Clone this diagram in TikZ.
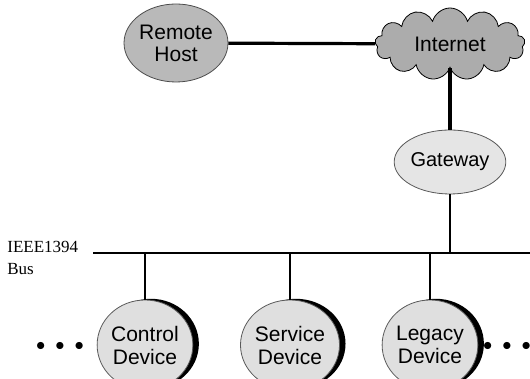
\documentclass[tikz,border=0pt]{standalone}
\usepackage{fontspec}
\setmainfont{Liberation Serif}
\setsansfont{Liberation Sans}
\usetikzlibrary{positioning,shapes.geometric,shapes.symbols,shadows}

\begin{document}
\begin{tikzpicture}[x=0.5pt,y=0.5pt]
    \tikzstyle{dev} = [ellipse, draw=gray!70!black, fill=gray!25, align=center, inner sep=0pt,
        minimum width=42pt, minimum height=45pt, font=\sffamily\fontsize{10.5}{11.5}\selectfont,
        drop shadow={shadow xshift=3pt, shadow yshift=0.6pt, fill=black, opacity=1}]
    \tikzstyle{wire} = [line width=1pt]
    \tikzstyle{fat} = [line width=1.6pt]
    \tikzstyle{dots} = [inner sep=0pt, font=\fontsize{9}{9}\selectfont]
    \useasboundingbox (0,0) rectangle (530,379);
        %%% remote side %%%
        \node[ellipse, draw=gray!60!black, fill=gray!55, align=center, inner sep=0pt,
            minimum width=46pt, minimum height=39pt,
            font=\sffamily\fontsize{10.5}{11}\selectfont] (remote) at (176,336) {Remote\\Host};
        \node[cloud, cloud puffs=13, aspect=2.3, draw=black, fill=gray!65, inner sep=0pt,
            minimum width=75pt, minimum height=36pt,
            font=\sffamily\fontsize{10.5}{11}\selectfont] (inet) at (450,335) {Internet};
        \draw[fat] (remote) -- (inet);
        %%% gateway
        \node[ellipse, draw=gray!70!black, fill=gray!20, inner sep=0pt,
            minimum width=46pt, minimum height=32pt,
            font=\sffamily\fontsize{10}{11}\selectfont] (gw) at (450,217) {Gateway};
        \draw[fat] (inet) -- (gw);
        %%% bus
        \coordinate (busl) at (93,126);
        \coordinate (busr) at (530,126);
        \draw[wire] (busl) -- (busr);
        \node[anchor=west, align=left, inner sep=0pt, font=\fontsize{8.5}{11}\selectfont]
            (buslabel) at (7,121) {IEEE1394\\Bus};
        \draw[wire] (gw) -- (gw |- busl);
        %%% devices %%%
        \node[dev] (ctrl) at (145,34) {Control\\Device};
        \node[dev] (serv) at (290,34) {Service\\Device};
        \node[dev] (legacy) at (430,34) {Legacy\\Device};
        \foreach \d in {ctrl,serv,legacy}
            \draw[wire] (\d.north) -- (\d.north |- busl);
        %%% dots
        \node[dots] (ldots) at (60,33) {$\bullet\hspace{3pt}\bullet\hspace{3pt}\bullet$};
        \node[dots] (rdots) at (507,33) {$\bullet\hspace{3pt}\bullet\hspace{3pt}\bullet$};
    \end{tikzpicture}
\end{document}
